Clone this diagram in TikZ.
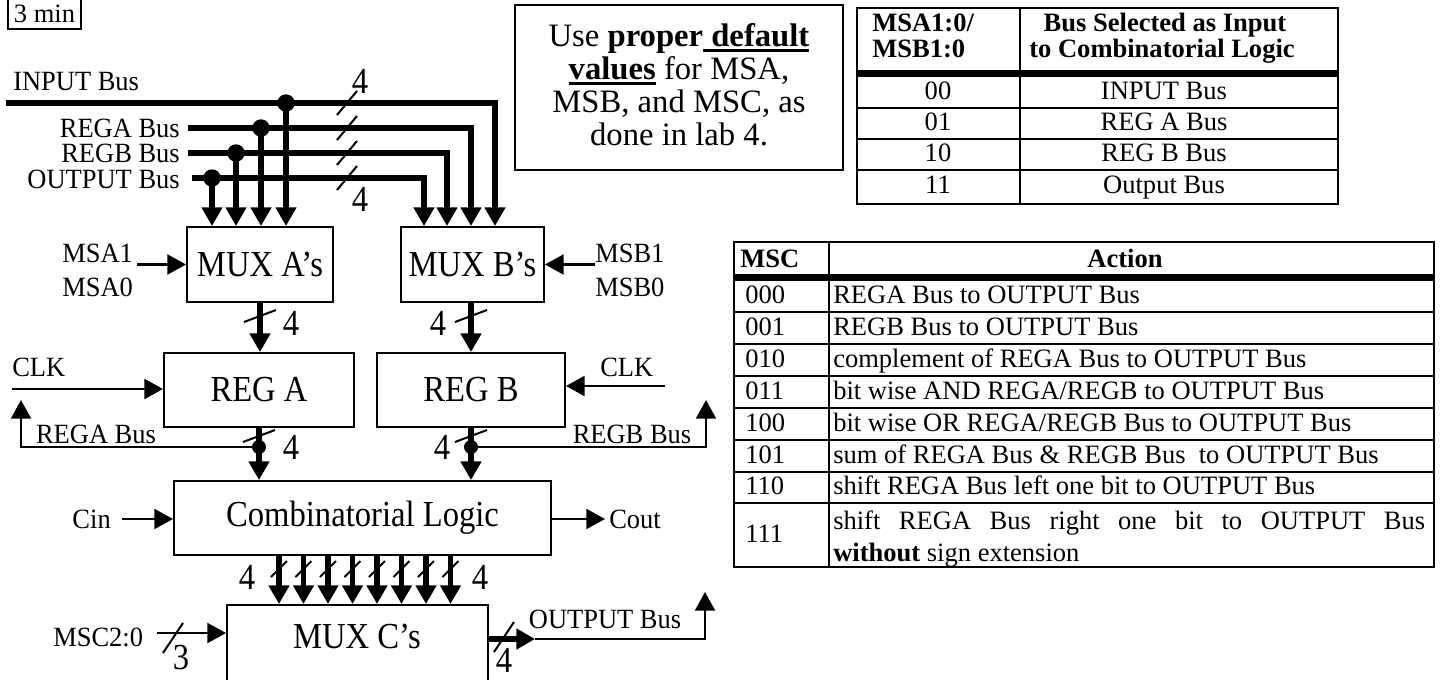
\documentclass[tikz,border=0pt]{standalone}
\usepackage{fontspec}
\setmainfont{Liberation Serif}
% narrow, tall cuts of the same face for the block diagram labels
\newfontfamily\diagfont{Liberation Serif}[FakeStretch=0.89]
\newfontfamily\labelfont{Liberation Serif}[FakeStretch=0.95]
\usetikzlibrary{arrows.meta}

\newcommand\smallfont{\labelfont\fontsize{20.9pt}{25pt}\selectfont}
\newcommand\bigfont{\diagfont\fontsize{27.5pt}{30pt}\selectfont}
\newcommand\tabfont{\fontsize{19.9pt}{24pt}\selectfont}
\newcommand\notefont{\fontsize{24.5pt}{24.75pt}\selectfont}
% thick underline that hangs just below the baseline
\newcommand\thickul[1]{\vtop{\hbox{#1}\kern1.6pt\hrule height 2.2pt}}

\tikzset{
  tick/.pic={\draw[line width=1.5pt] (-10,12) -- (10,-12);},
  flattick/.pic={\draw[line width=1.5pt] (-16,6) -- (16,-6);},
  smalltick/.pic={\draw[line width=1.5pt] (-8,8) -- (8,-8);},
  sidetick/.pic={\draw[line width=1.5pt] (-10,15) -- (10,-15);}
}

\begin{document}
\begin{tikzpicture}[x=0.75pt,y=-0.75pt,
  every node/.style={inner sep=0pt, font=\smallfont},
  blk/.style={draw, line width=1.5pt, font=\bigfont, inner sep=0pt},
  bus/.style={line width=4.2pt},
  wire/.style={line width=1.6pt},
  arr/.style={-{Triangle[length=14pt,width=15pt]}},
  bw/.style={font=\bigfont},
  tline/.style={line width=1.4pt},
  tabtext/.style={font=\tabfont},
  tabhead/.style={font=\tabfont\bfseries}]

\useasboundingbox (0,0) rectangle (1440,679);
\clip (0,0) rectangle (1440,679);

% ---------- blocks ----------
\node[blk, minimum width=109.5pt, minimum height=56.25pt] (muxa) at (260,264.5) {MUX A’s};
\node[blk, minimum width=107.25pt, minimum height=56.25pt] (muxb) at (472.5,264.5) {MUX B’s};
\node[blk, minimum width=142.5pt, minimum height=55.5pt] (rega) at (259,390) {REG A};
\node[blk, minimum width=141pt, minimum height=55.5pt] (regb) at (471,390) {REG B};
\node[blk, minimum width=282.75pt, minimum height=55.5pt] (comb) at (362.5,518) {Combinatorial Logic};
\node[blk, minimum width=195.75pt, minimum height=71.25pt] (muxc) at (357.5,652.5) {};
\node[bw] (muxclbl) at (357,636) {MUX C’s};

\node[draw, line width=1pt, tabtext, minimum width=54.75pt, minimum height=22.5pt] (time) at (44.5,14) {3 min};

% ---------- input buses ----------
\coordinate (inS) at (6,103);   \coordinate (jIn) at (286,103); \coordinate (inC) at (495,103);
\coordinate (raS) at (188,128); \coordinate (jRa) at (261,128); \coordinate (raC) at (471,128);
\coordinate (rbS) at (188,153); \coordinate (jRb) at (236,153); \coordinate (rbC) at (447,153);
\coordinate (ouS) at (192,178); \coordinate (jOu) at (212,178); \coordinate (ouC) at (424,178);

\draw[bus,arr] (inS) -- (inC) -- (inC |- muxb.north);
\draw[bus,arr] (raS) -- (raC) -- (raC |- muxb.north);
\draw[bus,arr] (rbS) -- (rbC) -- (rbC |- muxb.north);
\draw[bus,arr] (ouS) -- (ouC) -- (ouC |- muxb.north);
\foreach \j in {jIn,jRa,jRb,jOu}{
  \draw[bus,arr] (\j) -- (\j |- muxa.north);
  \fill (\j) circle[radius=8.7];
}
\foreach \y in {103,128,153,178} \pic at (347,\y) {tick};
\node[bw] (w1) at (360,81) {4};
\node[bw] (w2) at (360,199) {4};

\node[anchor=west] (linp) at (13,82) {INPUT Bus};
\node[anchor=east] (lra) at (180,128) {REGA Bus};
\node[anchor=east] (lrb) at (180,153) {REGB Bus};
\node[anchor=east] (lou) at (180,179) {OUTPUT Bus};

% ---------- select lines ----------
\coordinate (msaS) at (137,264.5);
\draw[wire,arr] (msaS) -- (msaS -| muxa.west);
\node[anchor=west] (msa1) at (62,253) {MSA1};
\node[anchor=west] (msa0) at (62,287) {MSA0};
\coordinate (msbS) at (595,264.5);
\draw[wire,arr] (msbS) -- (msbS -| muxb.east);
\node[anchor=west] (msb1) at (595,253) {MSB1};
\node[anchor=west] (msb0) at (595,287) {MSB0};

% ---------- MUX to REG ----------
\draw[bus,arr] (muxa.south) -- (muxa.south |- rega.north);
\draw[bus,arr] (muxb.south -| regb.north) -- (regb.north);
\pic at (260,316) {flattick};
\pic at (471,316) {flattick};
\node[bw] (w3) at (291,323) {4};
\node[bw] (w4) at (438,323) {4};

% ---------- clocks ----------
\coordinate (clkA) at (12,389);
\draw[wire,arr] (clkA) -- (clkA -| rega.west);
\node[anchor=west] (lclka) at (12,367) {CLK};
\coordinate (clkB) at (665,386);
\draw[wire,arr] (clkB) -- (clkB -| regb.east);
\node[anchor=west] (lclkb) at (600,367) {CLK};

% ---------- REG outputs and feedback ----------
\coordinate (jA) at (259,447); \coordinate (fbA) at (21,447); \coordinate (fbAt) at (21,400);
\coordinate (jB) at (471,447); \coordinate (fbB) at (706,447); \coordinate (fbBt) at (706,400);
\draw[bus,arr] (rega.south) -- (rega.south |- comb.north);
\draw[bus,arr] (regb.south) -- (regb.south |- comb.north);
\draw[wire,arr] (jA) -- (fbA) -- (fbAt);
\draw[wire,arr] (jB) -- (fbB) -- (fbBt);
\fill (jA) circle[radius=7];
\fill (jB) circle[radius=7];
\pic at (259,436) {flattick};
\pic at (471,436) {flattick};
\node[bw] (w5) at (291,447) {4};
\node[bw] (w6) at (442,447) {4};
\node (lfa) at (96,434) {REGA Bus};
\node (lfb) at (632,434) {REGB Bus};

% ---------- carry ----------
\coordinate (cinS) at (122,519);
\draw[wire,arr] (cinS) -- (cinS -| comb.west);
\node[anchor=east] (lcin) at (111,519) {Cin};
\coordinate (coutE) at (605,519);
\draw[wire,arr] (comb.east |- coutE) -- (coutE);
\node[anchor=west] (lcout) at (609,519) {Cout};

% ---------- eight 4-bit results ----------
\foreach \i in {0,...,7}{
  \coordinate (ct\i) at ({279+24.5*\i},0);
  \draw[bus,arr] (ct\i |- comb.south) -- (ct\i |- muxc.north);
  \pic at ({279+24.5*\i},569) {smalltick};
}
\node[bw] (w7) at (247,577) {4};
\node[bw] (w8) at (480,577) {4};

% ---------- MUX C ----------
\coordinate (mscS) at (157,633);
\draw[wire,arr] (mscS) -- (mscS -| muxc.west);
\pic at (173,638) {sidetick};
\node[anchor=west] (lmsc) at (53,637) {MSC2:0};
\node[bw] (w9) at (181,658) {3};

\coordinate (outT) at (535,639); \coordinate (outC) at (705,639); \coordinate (outU) at (705,592);
\draw[bus,arr] (muxc.east |- outT) -- (outT);
\draw[wire,arr] (outT) -- (outC) -- (outU);
\pic at (504,637) {sidetick};
\node[bw] (w10) at (504,660) {4};
\node (lout) at (605,619) {OUTPUT Bus};

% ---------- note ----------
\node[draw, line width=1.3pt, minimum width=246pt, minimum height=123.75pt] (note) at (679,87.5) {};
\node[align=center, font=\notefont] (notetxt) at (679,85)
  {Use \textbf{proper}\thickul{\textbf{\ default}}\\
   \thickul{\textbf{values}} for MSA,\\
   MSB, and MSC, as\\
   done in lab 4.};

% ---------- select table for MUX A / MUX B ----------
\draw[tline] (857,8) rectangle (1338,204);
\draw[tline] (1020,8) -- (1020,204);
\fill (857,70) rectangle (1338,77);
\foreach \y in {108,139,170} \draw[tline] (857,\y) -- (1338,\y);
\node[anchor=base west, tabhead] (h1a) at (872,31) {MSA1:0/};
\node[anchor=base west, tabhead] (h1b) at (872,57) {MSB1:0};
\node[anchor=base, tabhead] (h2a) at (1165,31) {Bus Selected as Input};
\node[anchor=base, tabhead] (h2b) at (1162,57) {to Combinatorial Logic};
\foreach \c/\v/\y in {00/INPUT Bus/99, 01/REG A Bus/130, 10/REG B Bus/161, 11/Output Bus/193}{
  \node[anchor=base, tabtext] at (938,\y) {\c};
  \node[anchor=base, tabtext] at (1164,\y) {\v};
}

% ---------- MSC action table ----------
\draw[tline] (734,242) rectangle (1434,567);
\draw[tline] (829,242) -- (829,567);
\fill (734,274) rectangle (1434,281);
\foreach \y in {312,344,376,408,440,472,503} \draw[tline] (734,\y) -- (1434,\y);
\node[anchor=base west, tabhead] (hmsc) at (740,267) {MSC};
\node[anchor=base, tabhead] (hact) at (1125,267) {Action};
\foreach \c/\v/\y in {000/REGA Bus to OUTPUT Bus/303.5,
                      001/REGB Bus to OUTPUT Bus/335,
                      010/complement of REGA Bus to OUTPUT Bus/367,
                      011/bit wise AND REGA\slash REGB to OUTPUT Bus/399,
                      100/bit wise OR REGA\slash REGB Bus to OUTPUT Bus/431,
                      101/sum of REGA Bus \& REGB Bus\ \ to OUTPUT Bus/463,
                      110/shift REGA Bus left one bit to OUTPUT Bus/494.5}{
  \node[anchor=base west, tabtext] at (745,\y) {\c};
  \node[anchor=base west, tabtext] at (833,\y) {\v};
}
\node[anchor=base west, tabtext] (c111) at (745,542) {111};
\node[anchor=base west, tabtext] (a111a) at (833,529) {\makebox[444pt][s]{shift REGA Bus right one bit to OUTPUT Bus}};
\node[anchor=base west, tabtext] (a111b) at (833,561) {\textbf{without} sign extension};

\end{tikzpicture}
\end{document}
